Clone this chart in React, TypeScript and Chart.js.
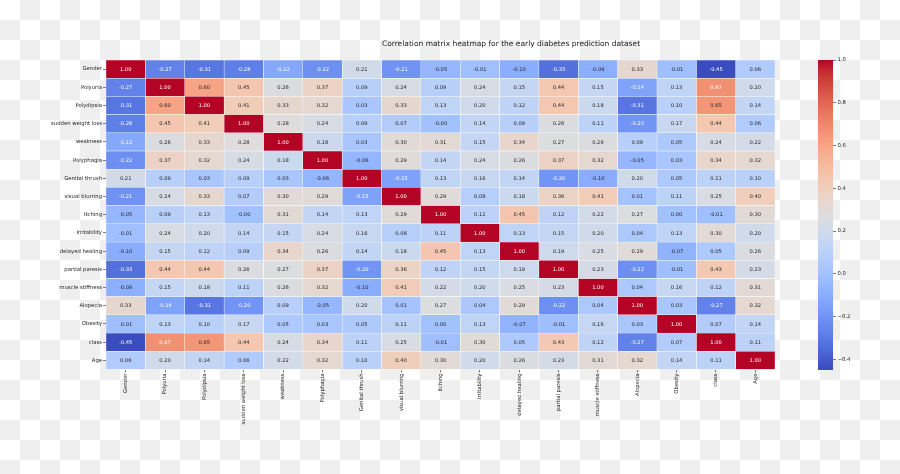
import React, { useEffect, useRef } from "react";
import { Chart, registerables } from "chart.js";

Chart.register(...registerables);

const TITLE = "Correlation matrix heatmap for the early diabetes prediction dataset";

const FEATURES = [
  "Gender", "Polyuria", "Polydipsia", "sudden weight loss", "weakness", "Polyphagia",
  "Genital thrush", "visual blurring", "Itching", "Irritability", "delayed healing",
  "partial paresis", "muscle stiffness", "Alopecia", "Obesity", "class", "Age",
];

const gender = [1.0, -0.27, -0.31, -0.28, -0.12, -0.22, 0.21, -0.21, -0.05, -0.01, -0.1, -0.33, -0.09, 0.33, -0.01, -0.45, 0.06];
const polyuria = [-0.27, 1.0, 0.6, 0.45, 0.26, 0.37, 0.09, 0.24, 0.09, 0.24, 0.15, 0.44, 0.15, -0.14, 0.13, 0.67, 0.2];
const polydipsia = [-0.31, 0.6, 1.0, 0.41, 0.33, 0.32, 0.03, 0.33, 0.13, 0.2, 0.12, 0.44, 0.18, -0.31, 0.1, 0.65, 0.14];
const suddenWeightLoss = [-0.28, 0.45, 0.41, 1.0, 0.28, 0.24, 0.09, 0.07, -0.004, 0.14, 0.09, 0.26, 0.11, -0.2, 0.17, 0.44, 0.06];
const weakness = [-0.12, 0.26, 0.33, 0.28, 1.0, 0.18, 0.03, 0.3, 0.31, 0.15, 0.34, 0.27, 0.26, 0.09, 0.05, 0.24, 0.22];
const polyphagia = [-0.22, 0.37, 0.32, 0.24, 0.18, 1.0, -0.06, 0.29, 0.14, 0.24, 0.26, 0.37, 0.32, -0.05, 0.03, 0.34, 0.32];
const genitalThrush = [0.21, 0.09, 0.03, 0.09, 0.03, -0.06, 1.0, -0.15, 0.13, 0.16, 0.14, -0.2, -0.1, 0.2, 0.05, 0.11, 0.1];
const visualBlurring = [-0.21, 0.24, 0.33, 0.07, 0.3, 0.29, -0.15, 1.0, 0.29, 0.08, 0.18, 0.36, 0.41, 0.01, 0.11, 0.25, 0.4];
const itching = [-0.05, 0.09, 0.13, -0.004, 0.31, 0.14, 0.13, 0.29, 1.0, 0.11, 0.45, 0.12, 0.22, 0.27, 0.0, -0.01, 0.3];
const irritability = [-0.01, 0.24, 0.2, 0.14, 0.15, 0.24, 0.16, 0.08, 0.11, 1.0, 0.13, 0.15, 0.2, 0.04, 0.13, 0.3, 0.2];
const delayedHealing = [-0.1, 0.15, 0.12, 0.09, 0.34, 0.26, 0.14, 0.18, 0.45, 0.13, 1.0, 0.19, 0.25, 0.29, -0.07, 0.05, 0.26];
const partialParesis = [-0.33, 0.44, 0.44, 0.26, 0.27, 0.37, -0.2, 0.36, 0.12, 0.15, 0.19, 1.0, 0.23, -0.22, -0.01, 0.43, 0.23];
const muscleStiffness = [-0.09, 0.15, 0.18, 0.11, 0.26, 0.32, -0.1, 0.41, 0.22, 0.2, 0.25, 0.23, 1.0, 0.04, 0.16, 0.12, 0.31];
const alopecia = [0.33, -0.14, -0.31, -0.2, 0.09, -0.05, 0.2, 0.01, 0.27, 0.04, 0.29, -0.22, 0.04, 1.0, 0.03, -0.27, 0.32];
const obesity = [-0.01, 0.13, 0.1, 0.17, 0.05, 0.03, 0.05, 0.11, 0.0, 0.13, -0.07, -0.01, 0.16, 0.03, 1.0, 0.07, 0.14];
const classRow = [-0.45, 0.67, 0.65, 0.44, 0.24, 0.34, 0.11, 0.25, -0.01, 0.3, 0.05, 0.43, 0.12, -0.27, 0.07, 1.0, 0.11];
const age = [0.06, 0.2, 0.14, 0.06, 0.22, 0.32, 0.1, 0.4, 0.3, 0.2, 0.26, 0.23, 0.31, 0.32, 0.14, 0.11, 1.0];

const MATRIX = [
  gender, polyuria, polydipsia, suddenWeightLoss, weakness, polyphagia, genitalThrush,
  visualBlurring, itching, irritability, delayedHealing, partialParesis, muscleStiffness,
  alopecia, obesity, classRow, age,
];

const COLORBAR_TICKS = [-0.4, -0.2, 0.0, 0.2, 0.4, 0.6, 0.8, 1.0];

// matplotlib "coolwarm" (Moreland) anchor colours
const COOLWARM = [
  [59, 76, 192], [68, 90, 204], [77, 104, 215], [87, 117, 225], [98, 130, 234],
  [108, 142, 241], [119, 154, 247], [130, 165, 251], [141, 176, 254], [152, 185, 255],
  [163, 194, 255], [174, 201, 253], [184, 208, 249], [194, 213, 244], [204, 217, 238],
  [213, 219, 230], [221, 221, 221], [229, 216, 209], [236, 211, 197], [241, 204, 185],
  [245, 196, 173], [247, 187, 160], [247, 177, 148], [247, 166, 135], [244, 154, 123],
  [241, 141, 111], [236, 127, 99], [229, 112, 88], [222, 96, 77], [213, 80, 66],
  [203, 62, 56], [192, 40, 47], [180, 4, 38],
];

const VMIN = Math.min(...MATRIX.flat());
const VMAX = Math.max(...MATRIX.flat());

function cmapRGB(t: number): number[] {
  const c = Math.max(0, Math.min(1, t)) * (COOLWARM.length - 1);
  const i = Math.min(COOLWARM.length - 2, Math.floor(c));
  const f = c - i;
  const a = COOLWARM[i];
  const b = COOLWARM[i + 1];
  return [0, 1, 2].map((k) => a[k] + (b[k] - a[k]) * f);
}

function colorFor(v: number): string {
  const [r, g, b] = cmapRGB((v - VMIN) / (VMAX - VMIN));
  return `rgb(${Math.round(r)},${Math.round(g)},${Math.round(b)})`;
}

function textColorFor(v: number): string {
  const rgb = cmapRGB((v - VMIN) / (VMAX - VMIN)).map((c) => {
    const s = c / 255;
    return s <= 0.03928 ? s / 12.92 : Math.pow((s + 0.055) / 1.055, 2.4);
  });
  const lum = 0.2126 * rgb[0] + 0.7152 * rgb[1] + 0.0722 * rgb[2];
  return lum > 0.408 ? "#262626" : "#ffffff";
}

const FONT = "'DejaVu Sans', sans-serif";
const TEXT = "#262626";

// layout of the plot (pixels of the 900x474 picture)
const W = 900;
const H = 474;
const AREA_LEFT = 106;
const AREA_RIGHT = 775;
const AREA_TOP = 60;
const AREA_BOTTOM = 369.5;
const CB_LEFT = 818;
const CB_RIGHT = 833;
const CB_BOTTOM = 370;

export default function App() {
  const mainRef = useRef<HTMLCanvasElement | null>(null);
  const cbRef = useRef<HTMLCanvasElement | null>(null);

  useEffect(() => {
    if (!mainRef.current || !cbRef.current) return;

    const annotate = {
      id: "annotate",
      afterDatasetsDraw(chart: any) {
        const ctx = chart.ctx;
        ctx.save();
        ctx.font = `5.2px ${FONT}`;
        ctx.textAlign = "center";
        ctx.textBaseline = "middle";
        chart.data.datasets.forEach((_ds: any, j: number) => {
          const meta = chart.getDatasetMeta(j);
          meta.data.forEach((el: any, i: number) => {
            const v = MATRIX[i][j];
            ctx.fillStyle = textColorFor(v);
            ctx.fillText(v.toFixed(2), (el.x + el.base) / 2, el.y + 0.3);
          });
        });
        ctx.restore();
      },
      afterDraw(chart: any) {
        const ctx = chart.ctx;
        ctx.save();
        ctx.font = `7.5px ${FONT}`;
        ctx.fillStyle = "#1a1a1a";
        ctx.textAlign = "center";
        ctx.textBaseline = "middle";
        ctx.fillText(TITLE, 511, 44.3);
        ctx.restore();
      },
    };

    const main = new Chart(mainRef.current, {
      type: "bar",
      data: {
        labels: FEATURES,
        datasets: FEATURES.map((col, j) => ({
          label: col,
          data: FEATURES.map(() => [j, j + 1]) as any,
          backgroundColor: MATRIX.map((row) => colorFor(row[j])),
          borderColor: "#ffffff",
          borderWidth: 0.5,
          borderSkipped: false,
          barPercentage: 1,
          categoryPercentage: 1,
          grouped: false,
        })),
      },
      options: {
        indexAxis: "y",
        responsive: false,
        animation: false,
        events: [],
        layout: { padding: { left: 0, right: W - AREA_RIGHT, top: AREA_TOP, bottom: 0 } },
        plugins: { legend: { display: false }, tooltip: { enabled: false }, title: { display: false } },
        scales: {
          y: {
            type: "category",
            afterFit: (s: any) => { s.width = AREA_LEFT; },
            grid: { offset: false, drawOnChartArea: false, drawTicks: true, tickLength: 3, tickColor: TEXT, tickWidth: 0.6 },
            border: { display: false },
            ticks: { color: TEXT, font: { family: FONT, size: 5.3 }, padding: 1, autoSkip: false },
          },
          x: {
            type: "linear",
            min: 0,
            max: FEATURES.length,
            afterFit: (s: any) => { s.height = H - AREA_BOTTOM; },
            afterBuildTicks: (s: any) => { s.ticks = FEATURES.map((_f, i) => ({ value: i + 0.5 })); },
            grid: { drawOnChartArea: false, drawTicks: true, tickLength: 3, tickColor: TEXT, tickWidth: 0.6 },
            border: { display: false },
            ticks: {
              color: TEXT,
              font: { family: FONT, size: 5.3 },
              padding: 1,
              autoSkip: false,
              maxRotation: 90,
              minRotation: 90,
              callback: (v: any) => FEATURES[Math.floor(Number(v))],
            },
          },
        },
      },
      plugins: [annotate],
    } as any);

    const gradientBar = {
      id: "gradientBar",
      beforeDatasetsDraw(chart: any) {
        const { ctx, chartArea } = chart;
        const ys = chart.scales.y;
        const y0 = ys.getPixelForValue(VMIN);
        const y1 = ys.getPixelForValue(VMAX);
        const grad = ctx.createLinearGradient(0, y0, 0, y1);
        COOLWARM.forEach((c, k) => {
          grad.addColorStop(k / (COOLWARM.length - 1), `rgb(${c[0]},${c[1]},${c[2]})`);
        });
        ctx.save();
        ctx.fillStyle = grad;
        ctx.fillRect(chartArea.left, y1, chartArea.right - chartArea.left, y0 - y1);
        ctx.restore();
      },
    };

    const cb = new Chart(cbRef.current, {
      type: "scatter",
      data: { datasets: [] },
      options: {
        responsive: false,
        animation: false,
        events: [],
        layout: { padding: { left: CB_LEFT, right: W - CB_RIGHT - 40, top: AREA_TOP, bottom: H - CB_BOTTOM } },
        plugins: { legend: { display: false }, tooltip: { enabled: false } },
        scales: {
          x: { display: false, min: 0, max: 1 },
          y: {
            type: "linear",
            position: "right",
            min: VMIN,
            max: VMAX,
            afterFit: (s: any) => { s.width = 40; },
            afterBuildTicks: (s: any) => { s.ticks = COLORBAR_TICKS.map((v) => ({ value: v })); },
            grid: { drawOnChartArea: false, drawTicks: true, tickLength: 3, tickColor: TEXT, tickWidth: 0.6 },
            border: { display: false },
            ticks: {
              color: TEXT,
              font: { family: FONT, size: 5.3 },
              padding: 1.5,
              callback: (v: any) => {
                const n = Number(v);
                const s = Math.abs(n).toFixed(1);
                return n < -1e-9 ? "\u2212" + s : s;
              },
            },
          },
        },
      },
      plugins: [gradientBar],
    } as any);

    return () => {
      main.destroy();
      cb.destroy();
    };
  }, []);

  const canvasStyle: React.CSSProperties = { position: "absolute", left: 0, top: 0, width: W, height: H };

  return (
    <div
      style={{
        position: "fixed",
        left: 0,
        top: 0,
        width: W,
        height: H,
        backgroundColor: "#ffffff",
        backgroundImage: "conic-gradient(#efefef 0 25%, #ffffff 0 50%, #efefef 0 75%, #ffffff 0)",
        backgroundSize: "40px 40px",
      }}
    >
      <canvas ref={mainRef} width={W} height={H} style={canvasStyle} />
      <canvas ref={cbRef} width={W} height={H} style={canvasStyle} />
    </div>
  );
}
